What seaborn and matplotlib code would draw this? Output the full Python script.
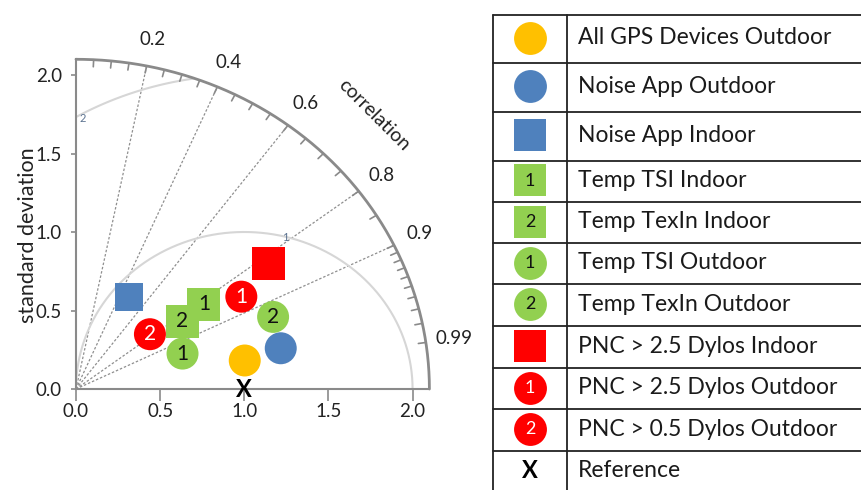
import numpy as np
import pandas as pd
import matplotlib
matplotlib.use("Agg")
import matplotlib.pyplot as plt
import seaborn as sns

# ---------------- data ----------------
labels = ["All GPS Devices Outdoor", "Noise App Outdoor", "Noise App Indoor",
          "Temp TSI Indoor", "Temp TexIn Indoor", "Temp TSI Outdoor",
          "Temp TexIn Outdoor", "PNC > 2.5 Dylos Indoor",
          "PNC > 2.5 Dylos Outdoor", "PNC > 0.5 Dylos Outdoor"]
std_dev = [1.019, 1.244, 0.668, 0.933, 0.765, 0.672, 1.258, 1.392, 1.145, 0.561]
correlation = [0.984, 0.978, 0.473, 0.815, 0.827, 0.942, 0.931, 0.820, 0.858, 0.783]
marker_numbers = ["", "", "", "1", "2", "1", "2", "", "1", "2"]
ref_label = "Reference"
ref_std = 1.0
ref_corr = 1.0

corr_tick_labels = [0.2, 0.4, 0.6, 0.8, 0.9, 0.99]
corr_lines = [0.2, 0.4, 0.6, 0.8, 0.9]
corr_minor = [0.05, 0.1, 0.15, 0.2, 0.25, 0.3, 0.35, 0.4, 0.45, 0.5, 0.55, 0.6,
              0.65, 0.7, 0.75, 0.8, 0.85, 0.9, 0.91, 0.92, 0.93, 0.94, 0.95,
              0.96, 0.97, 0.98, 0.99]
rms_levels = [1, 2]
std_ticks = [0.0, 0.5, 1.0, 1.5, 2.0]
std_max = 2.1

# ---------------- style ----------------
colors = ["#FFC000", "#4F81BD", "#4F81BD", "#92D050", "#92D050", "#92D050",
          "#92D050", "#FF0000", "#FF0000", "#FF0000"]
markers = ["o", "o", "s", "s", "s", "o", "o", "s", "o", "o"]
sizes = [530, 530, 410, 565, 565, 530, 530, 565, 530, 530]
digit_colors = ["k", "k", "k", "#111111", "#111111", "#111111", "#111111",
                "w", "w", "w"]

sns.set_style("ticks")
plt.rcParams["font.family"] = ["Lato", "DejaVu Sans"]

W, H = 862, 490
fig = plt.figure(figsize=(W / 100, H / 100), dpi=100)
ax = fig.add_axes([76 / W, 101 / H, 353.4 / W, 329.7 / H])

df = pd.DataFrame({"label": labels, "std": std_dev, "corr": correlation})
theta = np.arccos(df["corr"].to_numpy())
df["x"] = df["std"] * np.cos(theta)
df["y"] = df["std"] * np.sin(theta)

grey = "#8a8a8a"

# outer arc
t = np.linspace(0, np.pi / 2, 300)
ax.plot(std_max * np.cos(t), std_max * np.sin(t), color=grey, lw=2, clip_on=False, zorder=2)

# arc ticks
for c in corr_minor:
    a = np.arccos(c)
    ax.plot([std_max * np.cos(a), (std_max - 0.045) * np.cos(a)],
            [std_max * np.sin(a), (std_max - 0.045) * np.sin(a)],
            color=grey, lw=1.2, clip_on=False, zorder=2)

# correlation lines
for c in corr_lines:
    a = np.arccos(c)
    ax.plot([0, std_max * np.cos(a)], [0, std_max * np.sin(a)], color="#8f8f8f",
            lw=0.9, ls=(0, (2, 1.5)), clip_on=False, zorder=1)

# correlation tick labels
for c in corr_tick_labels:
    a = np.arccos(c)
    ax.text(2.27 * np.cos(a), 2.27 * np.sin(a), f"{c:g}", ha="center", va="center",
            fontsize=13.5, color="#222222")
ax.text(1.77, 1.745, "correlation", rotation=-45, ha="center", va="center",
        fontsize=14, color="#222222")

# RMS arcs centred on the reference
tt = np.linspace(0, np.pi, 600)
for r in rms_levels:
    xs = ref_std + r * np.cos(tt)
    ys = r * np.sin(tt)
    m = (xs >= 0) & (xs ** 2 + ys ** 2 <= std_max ** 2 + 1e-9)
    ax.plot(xs[m], ys[m], color="#d6d6d6", lw=1.5, zorder=1, clip_on=False)
ax.text(1.245, 0.965, "1", fontsize=8, color="#5b7290", ha="center", va="center")
ax.text(0.04, 1.72, "2", fontsize=8, color="#5b7290", ha="center", va="center")

# data points
sns.scatterplot(data=df, x="x", y="y", hue="label", style="label", size="label",
                palette=dict(zip(labels, colors)), markers=dict(zip(labels, markers)),
                sizes=dict(zip(labels, sizes)), linewidth=0, legend=False, ax=ax,
                clip_on=False, zorder=5)
for xi, yi, num, dc in zip(df["x"], df["y"], marker_numbers, digit_colors):
    if num:
        ax.text(xi, yi, num, ha="center", va="center", fontsize=15, color=dc, zorder=6)

# reference point
ra = np.arccos(ref_corr)
ax.text(ref_std * np.cos(ra), ref_std * np.sin(ra), "X", ha="center", va="center",
        fontsize=17, fontweight="bold", color="black", zorder=6)

# axes
ax.set_xlim(0, std_max)
ax.set_ylim(0, std_max)
ax.set_xticks(std_ticks)
ax.set_yticks(std_ticks)
ax.set_xticklabels([f"{v:.1f}" for v in std_ticks])
ax.set_yticklabels([f"{v:.1f}" for v in std_ticks])
for s in ["top", "right"]:
    ax.spines[s].set_visible(False)
for s in ["left", "bottom"]:
    ax.spines[s].set_color(grey)
    ax.spines[s].set_linewidth(1.5)
ax.tick_params(axis="x", length=8.6, width=1.2, color=grey, pad=1.5,
               labelsize=13.5, labelcolor="#222222")
ax.tick_params(axis="y", length=3.6, width=1.2, color=grey, pad=6.5,
               labelsize=13.5, labelcolor="#222222")
ax.set_xlabel("")
ax.set_ylabel("standard deviation", fontsize=15.5, color="#222222",
              ha="center", va="center")
ax.yaxis.set_label_coords(-0.136, 0.467)
ax.patch.set_visible(False)

# ---------------- legend table ----------------
lax = fig.add_axes([0, 0, 1, 1])
lax.set_xlim(0, W)
lax.set_ylim(H, 0)
lax.axis("off")
row_edges = [15, 63, 112, 161, 202, 243, 284, 326, 368, 409, 451, 492]
x_left, x_sep = 493, 567
for y in row_edges[:-1]:
    lax.plot([x_left, W], [y, y], color="#222222", lw=1.3, clip_on=False)
for x in [x_left, x_sep]:
    lax.plot([x, x], [row_edges[0], H], color="#222222", lw=1.3, clip_on=False)

leg_labels = labels + [ref_label]
for i, lab in enumerate(leg_labels):
    yc = (row_edges[i] + row_edges[i + 1]) / 2 - 1
    lax.text(578, yc, lab, ha="left", va="center", fontsize=16.5, color="#1a1a1a")
    if i < len(labels):
        lax.scatter([530], [yc], s=560, marker=markers[i], color=colors[i],
                    linewidths=0, clip_on=False)
        if marker_numbers[i]:
            lax.text(530, yc, marker_numbers[i], ha="center", va="center",
                     fontsize=13, color=digit_colors[i])
    else:
        lax.text(530, yc, "X", ha="center", va="center", fontsize=17,
                 fontweight="bold", color="black")

fig.savefig("out.png", dpi=100)
